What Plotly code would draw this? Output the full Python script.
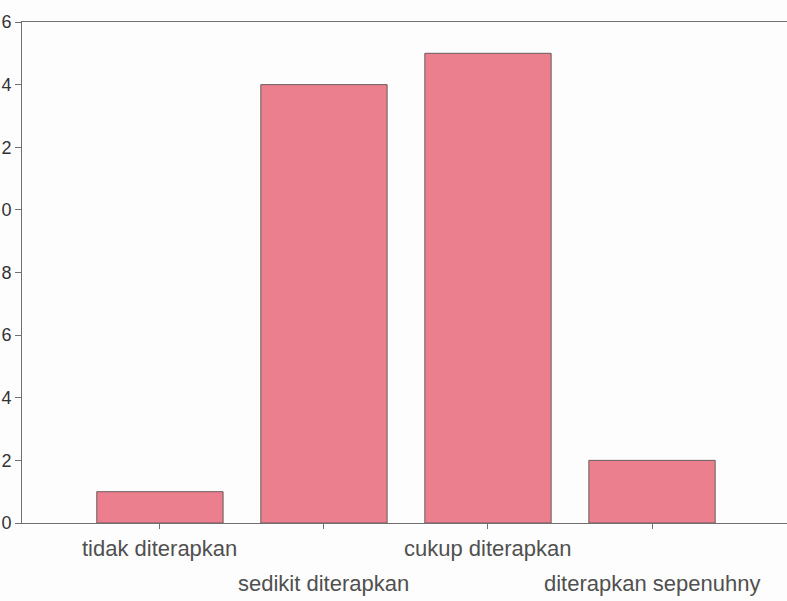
import plotly.graph_objects as go

categories = ["tidak diterapkan", "sedikit diterapkan", "cukup diterapkan", "diterapkan sepenuhny"]
counts = [1, 14, 15, 2]
y_ticks = [0, 2, 4, 6, 8, 10, 12, 14, 16]
# the scan cuts the left edge, only the last digit of each label is visible
y_tick_labels = ["0", "2", "4", "6", "8", "0", "2", "4", "6"]

AXIS = "#707070"
TEXT = "#505050"

fig = go.Figure(
    go.Bar(
        x=list(range(len(categories))),
        y=counts,
        marker=dict(color="#ec7f8e", line=dict(color="#6a5a5d", width=1)),
    )
)

# staggered category labels: alternate between two rows
for i, name in enumerate(categories):
    fig.add_annotation(
        x=i, y=0, xref="x", yref="y",
        text=name, showarrow=False,
        yanchor="middle", yshift=-25 if i % 2 == 0 else -60,
        font=dict(size=22, color=TEXT),
    )

fig.update_layout(
    width=787,
    height=601,
    margin=dict(l=22, r=0, t=22, b=78),
    paper_bgcolor="#fdfdfd",
    plot_bgcolor="#fdfdfd",
    font=dict(family="Liberation Sans, Arial, sans-serif", color=TEXT),
    bargap=0.23,
    showlegend=False,
)
fig.update_xaxes(
    range=[-0.841, 3.823],
    tickvals=list(range(len(categories))),
    showticklabels=False,
    ticks="outside", ticklen=5, tickcolor=AXIS,
    showline=True, linecolor=AXIS, linewidth=1, mirror=True,
    showgrid=False, zeroline=False,
)
fig.update_yaxes(
    range=[0, 16],
    tickvals=y_ticks,
    ticktext=y_tick_labels,
    ticks="outside", ticklen=6, tickcolor=AXIS,
    ticklabelstandoff=0,
    tickfont=dict(size=18, color="#333333"),
    showline=True, linecolor=AXIS, linewidth=1,
    showgrid=False, zeroline=False,
    automargin=False,
)

fig.write_html(
    "out.html",
    config={"displayModeBar": False},
    post_script="document.body.style.margin='0';document.body.style.overflow='hidden';",
)
